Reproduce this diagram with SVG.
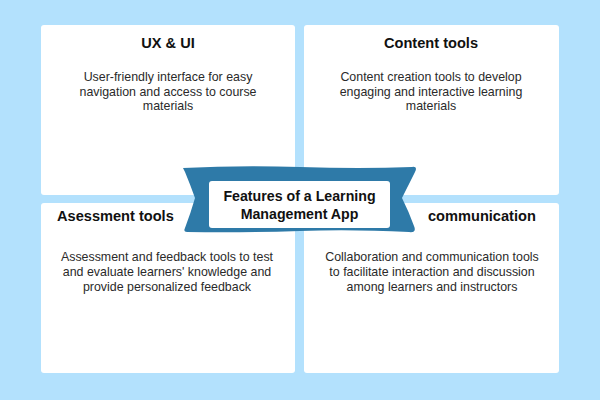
<svg xmlns="http://www.w3.org/2000/svg" width="600" height="400" viewBox="0 0 600 400">
<style>
.panel{fill:#ffffff}
.h{font-family:"Liberation Sans",Arial,sans-serif;font-weight:bold;font-size:14.6px;fill:#111111}
.b{font-family:"Liberation Sans",Arial,sans-serif;font-size:12.4px;fill:#2a2a2a;text-anchor:middle}
.t{font-family:"Liberation Sans",Arial,sans-serif;font-weight:bold;font-size:14.2px;fill:#111111;text-anchor:middle}
</style>
<rect x="0" y="0" width="600" height="400" fill="#b3e1fd"/>
<g id="node-ux">
<rect class="panel" x="41" y="25" width="254" height="170" rx="3"/>
<text class="h" x="168" y="48" text-anchor="middle">UX &amp; UI</text>
<text class="b" x="168" y="81">User-friendly interface for easy</text>
<text class="b" x="168" y="95.5">navigation and access to course</text>
<text class="b" x="168" y="110">materials</text>
</g>
<g id="node-content">
<rect class="panel" x="304" y="25" width="255" height="170" rx="3"/>
<text class="h" x="431" y="48" text-anchor="middle">Content tools</text>
<text class="b" x="431" y="81">Content creation tools to develop</text>
<text class="b" x="431" y="95.5">engaging and interactive learning</text>
<text class="b" x="431" y="110">materials</text>
</g>
<g id="node-assessment">
<rect class="panel" x="41" y="203" width="254" height="170" rx="3"/>
<text class="h" x="57" y="221">Asessment tools</text>
<text class="b" x="167" y="261">Assessment and feedback tools to test</text>
<text class="b" x="167" y="276">and evaluate learners' knowledge and</text>
<text class="b" x="167" y="291">provide personalized feedback</text>
</g>
<g id="node-communication">
<rect class="panel" x="304" y="203" width="255" height="170" rx="3"/>
<text class="h" x="428" y="221">communication</text>
<text class="b" x="432" y="261">Collaboration and communication tools</text>
<text class="b" x="432" y="276">to facilitate interaction and discussion</text>
<text class="b" x="432" y="291">among learners and instructors</text>
</g>
<g id="connectors"></g>
<g id="node-title">
<path d="M183,168 Q240,165 300,167 Q360,169 412,167 Q418,166 415,172 Q408,186 402,198 Q409,212 414,226 Q417,233 409,232 Q350,229 300,231 Q240,233 187,232 Q183,232 185,228 Q191,212 195,198 Q190,184 185,172 Q183,168 183,168 Z" fill="#2e7aa8"/>
<rect x="209" y="181" width="181" height="47" rx="3" fill="#ffffff"/>
<text class="t" x="299.5" y="201">Features of a Learning</text>
<text class="t" x="299.5" y="219">Management App</text>
</g>
</svg>
